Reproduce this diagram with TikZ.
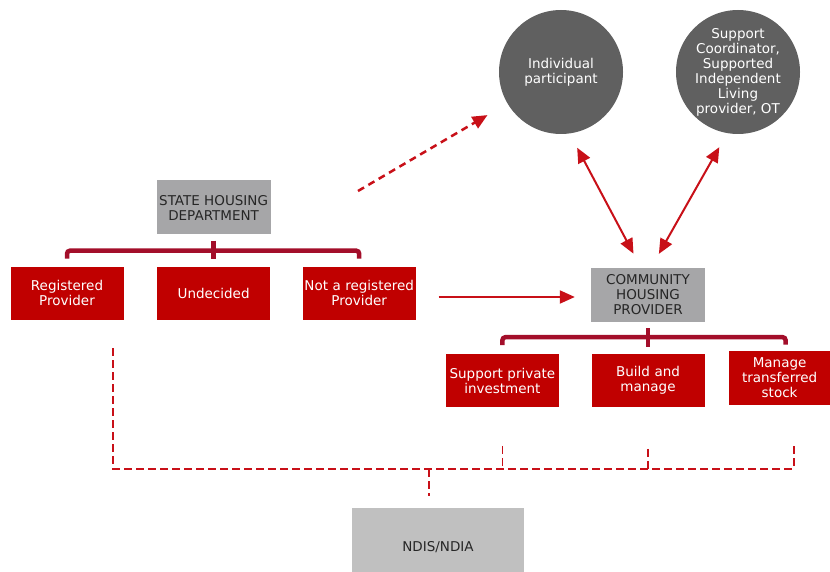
\documentclass[tikz,border=0pt]{standalone}
\usepackage{fontspec}
\setmainfont{DejaVu Sans}
\usepackage{tikz}
\usetikzlibrary{arrows.meta}
\usetikzlibrary{calc}
\usetikzlibrary{positioning}
\definecolor{boxred}{RGB}{192,0,0}
\definecolor{linkred}{RGB}{200,16,24}
\definecolor{brackred}{RGB}{163,14,42}
\definecolor{boxgray}{RGB}{166,166,168}
\definecolor{ndisgray}{RGB}{192,192,192}
\definecolor{circgray}{RGB}{96,96,96}
\definecolor{txtdark}{RGB}{38,38,38}
\tikzstyle{redblock} = [draw=white, line width=0.6pt, fill=boxred, text=white, rectangle,
    minimum width=114pt, minimum height=54pt, text width=110pt, align=center, inner sep=0pt]
\tikzstyle{grayblock} = [fill=boxgray, text=txtdark, rectangle,
    minimum width=114pt, minimum height=54pt, align=center, inner sep=0pt]
\tikzstyle{bubble} = [circle, fill=circgray, text=white, minimum size=124pt, align=center, inner sep=0pt]
\tikzstyle{bracket} = [draw=brackred, line width=4.5pt, rounded corners=3pt]
\tikzstyle{dashline} = [draw=linkred, line width=1.8pt, dash pattern=on 8pt off 4pt]
\tikzstyle{link} = [draw=linkred, line width=2pt]

\begin{document}
\begin{tikzpicture}[x=1pt, y=1pt, node distance=31pt, >={Triangle[length=15pt,width=13pt]},
    font=\fontsize{13.5}{15}\selectfont]
    \useasboundingbox (0,0) rectangle (830,571);

    % state side
    \node [redblock] (reg) at (67,278) {Registered\\Provider};
    \node [redblock, right=32pt of reg] (und) {Undecided};
    \node [redblock, right=31pt of und] (notreg) {Not a registered\\Provider};
    \node [grayblock, above=31pt of und] (state) {STATE HOUSING\\DEPARTMENT};

    \draw [bracket] ([yshift=7pt]reg.north) -- ++(0,8) -| ([yshift=7pt]notreg.north);
    \draw [bracket] ([yshift=-6pt]state.south) -- ([yshift=7pt]und.north);

    % community housing side
    \node [grayblock] (chp) at (648,276) {COMMUNITY\\HOUSING\\PROVIDER};
    \node [redblock, below=31pt of chp] (bam) {Build and\\manage};
    \node [redblock, left=31pt of bam] (spi) {Support private\\investment};
    \node [redblock, right=23pt of bam, yshift=3pt, minimum width=102pt, text width=98pt,
        minimum height=55pt] (mts) {Manage\\transferred\\stock};

    \draw [bracket] ([yshift=8pt]spi.north) -- ++(0,8) -| ([xshift=6pt,yshift=5pt]mts.north);
    \draw [bracket] ([yshift=-6pt]chp.south) -- ([yshift=6pt]bam.north);

    \draw [link, ->, shorten <=22pt, shorten >=16pt] ([yshift=-4pt]notreg.east)
        -- ([yshift=-4pt]notreg.east -| chp.west);

    % participants
    \node [bubble] (indiv) at (561,499) {Individual\\participant};
    \node [bubble] (suppc) at (738,499) {Support\\Coordinator,\\Supported\\Independent\\Living\\provider, OT};

    \draw [link, <->, shorten <=16pt, shorten >=16pt] (indiv.278) -- ([xshift=-7pt]chp.north);
    \draw [link, <->, shorten <=16pt, shorten >=16pt] (suppc.260) -- ([xshift=3pt]chp.north);

    \coordinate (dstart) at (358,380);
    \draw [dashline, ->, line width=2.5pt, dash pattern=on 7pt off 5pt, shorten >=23pt] (dstart) -- (indiv);

    % NDIS links
    \node [grayblock, fill=ndisgray, minimum width=172pt, minimum height=78pt] (ndis) at (438,24) {NDIS/NDIA};
    \coordinate (busL) at (113,102);
    \coordinate (busR) at (795,102);
    \coordinate (busM) at (429,102);
    \draw [dashline] ([xshift=46pt,yshift=-28pt]reg.south) -- (busL) -- (busR);
    \draw [dashline] ([yshift=-38pt]spi.south) -- (spi.south |- busL);
    \draw [dashline] ([yshift=-41pt]bam.south) -- (bam.south |- busL);
    \draw [dashline] ([xshift=14pt,yshift=-41pt]mts.south) -- ([xshift=14pt]mts.south |- busL);
    \draw [dashline] (busM) -- ([xshift=-9pt,yshift=12pt]ndis.north);
\end{tikzpicture}
\end{document}
